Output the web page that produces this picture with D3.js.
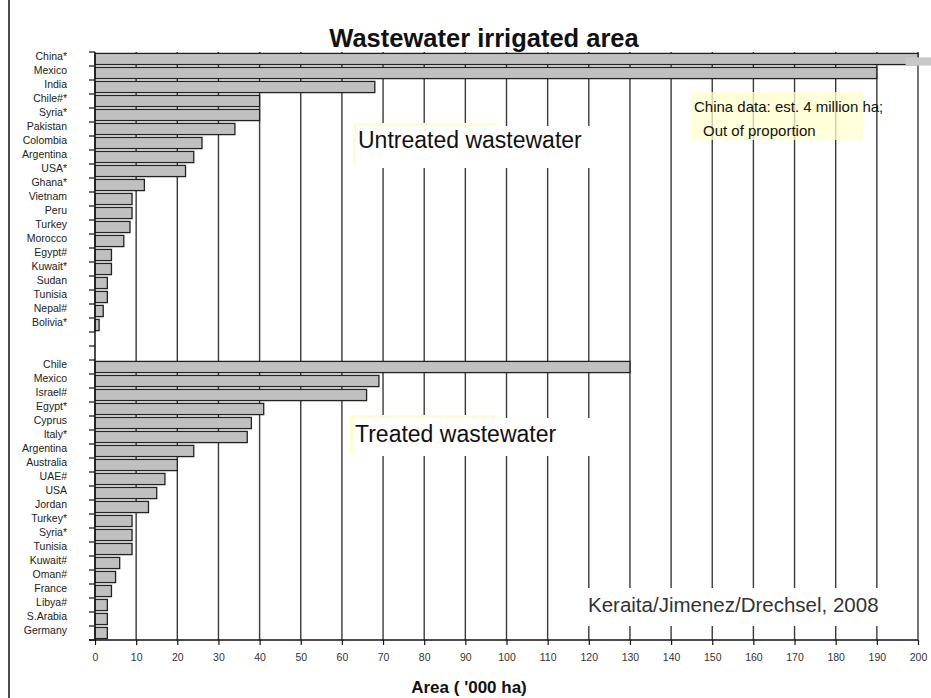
<!DOCTYPE html>
<html>
<head>
<meta charset="utf-8">
<script src="https://d3js.org/d3.v7.min.js"></script>
<style>
body { margin:0; background:#fff; }
text { font-family: "Liberation Sans", Arial, sans-serif; }
</style>
</head>
<body>
<script>
// untreated wastewater ('000 ha)
var untreatedNames = ["China*","Mexico","India","Chile#*","Syria*","Pakistan","Colombia","Argentina","USA*","Ghana*",
	"Vietnam","Peru","Turkey","Morocco","Egypt#","Kuwait*","Sudan","Tunisia","Nepal#","Bolivia*"];
var untreatedValues = [4000,190,68,40,40,34,26,24,22,12,9,9,8.5,7,4,4,3,3,2,1];

// treated wastewater ('000 ha)
var treatedNames = ["Chile","Mexico","Israel#","Egypt*","Cyprus","Italy*","Argentina","Australia","UAE#","USA",
	"Jordan","Turkey*","Syria*","Tunisia","Kuwait#","Oman#","France","Libya#","S.Arabia","Germany"];
var treatedValues = [130,69,66,41,38,37,24,20,17,15,13,9,9,9,6,5,4,3,3,3];

var xTicks = [0,10,20,30,40,50,60,70,80,90,100,110,120,130,140,150,160,170,180,190,200];

make_graph();

function make_graph(){
	var w = 931;
	var h = 698;
	var left = 95, right = 918, top = 52, bottom = 640;

	// one row per bar, two empty rows between the groups
	var rows = [];
	for(var i=0;i<untreatedNames.length;i++){
		rows.push({key:"u"+i, name:untreatedNames[i], value:untreatedValues[i]});
	}
	rows.push({key:"gap1", name:"", value:null});
	rows.push({key:"gap2", name:"", value:null});
	for(var i=0;i<treatedNames.length;i++){
		rows.push({key:"t"+i, name:treatedNames[i], value:treatedValues[i]});
	}

	var svg = d3.select("body")
			.append("svg")
			.attr("width",w)
			.attr("height",h);

	var x = d3.scaleLinear().domain([0,200]).range([left,right]);
	var y = d3.scaleBand()
		.domain(rows.map(function(d){ return d.key; }))
		.range([top,bottom])
		.paddingInner(0.2)
		.paddingOuter(0.1);

	// outer frame line on the left
	svg.append("line")
		.attr("x1",9).attr("x2",9).attr("y1",0).attr("y2",h)
		.attr("stroke","#111").attr("stroke-width",1.5);

	// vertical gridlines
	svg.selectAll("line.grid")
		.data(xTicks.slice(1))
		.enter()
		.append("line")
		.attr("class","grid")
		.attr("x1",function(d){ return x(d); })
		.attr("x2",function(d){ return x(d); })
		.attr("y1",top)
		.attr("y2",bottom)
		.attr("stroke","#3a3a3a")
		.attr("stroke-width",1.4);

	// china note (yellow box, gridlines show through)
	svg.append("rect")
		.attr("x",691).attr("y",92).attr("width",172).attr("height",48)
		.attr("fill","#ffffcc").attr("fill-opacity",0.75);

	// bars
	var bars = rows.filter(function(d){ return d.value != null; });
	svg.selectAll("rect.bar")
		.data(bars)
		.enter()
		.append("rect")
		.attr("class","bar")
		.attr("x",x(0))
		.attr("y",function(d){ return y(d.key); })
		.attr("width",function(d){ return x(Math.min(d.value,200)) - x(0); })
		.attr("height",y.bandwidth())
		.attr("fill","#c0c0c0")
		.attr("stroke","#222")
		.attr("stroke-width",1.3);

	// china bar runs off the chart
	var china = bars[0];
	svg.append("rect")
		.attr("x",x(197))
		.attr("y",y(china.key) + 4)
		.attr("width",w - x(197))
		.attr("height",y.bandwidth() - 3)
		.attr("fill","#c8c8c8");

	// y axis with ticks at row boundaries
	var bounds = rows.map(function(d){ return y(d.key) - y.step()*y.paddingInner()/2; });
	bounds.push(bottom);
	svg.append("line")
		.attr("x1",left).attr("x2",left).attr("y1",top).attr("y2",bottom)
		.attr("stroke","#111").attr("stroke-width",1.5);
	svg.selectAll("line.ytick")
		.data(bounds)
		.enter()
		.append("line")
		.attr("class","ytick")
		.attr("x1",left-6).attr("x2",left)
		.attr("y1",function(d){ return d; })
		.attr("y2",function(d){ return d; })
		.attr("stroke","#111").attr("stroke-width",1.2);

	svg.selectAll("text.ylab")
		.data(rows)
		.enter()
		.append("text")
		.attr("class","ylab")
		.attr("x",67)
		.attr("y",function(d){ return y(d.key) + y.bandwidth()/2 + 1; })
		.attr("text-anchor","end")
		.attr("font-size","10.5px")
		.attr("fill","#222")
		.text(function(d){ return d.name; });

	// x axis
	var xAxis = d3.axisBottom(x).tickValues(xTicks).tickSize(5).tickPadding(9);
	var gx = svg.append("g")
		.attr("transform","translate(0," + bottom + ")")
		.call(xAxis);
	gx.select(".domain").attr("stroke","#111").attr("stroke-width",1.6).attr("d","M" + (left-6) + ",0H" + right);
	gx.selectAll(".tick line").attr("stroke","#111").attr("stroke-width",1.2);
	gx.selectAll(".tick text")
		.attr("font-family","'Liberation Sans', Arial, sans-serif")
		.attr("font-size","10.5px")
		.attr("fill","#333");

	// title and axis title
	svg.append("text")
		.attr("x",484).attr("y",47)
		.attr("text-anchor","middle")
		.attr("font-size","25.5px").attr("font-weight","bold")
		.attr("fill","#111")
		.text("Wastewater irrigated area");
	svg.append("text")
		.attr("x",469).attr("y",693)
		.attr("text-anchor","middle")
		.attr("font-size","17px").attr("font-weight","bold")
		.attr("fill","#111")
		.text("Area ( '000 ha)");

	// group labels with boxes covering the gridlines
	label(svg, 353, 123, 144, "Untreated wastewater", 358, 148, 126, 42);
	label(svg, 350, 415, 147, "Treated wastewater", 355, 442, 418, 38);

	svg.append("rect")
		.attr("x",580).attr("y",588).attr("width",305).attr("height",38)
		.attr("fill","#fff");
	svg.append("text")
		.attr("x",588).attr("y",612)
		.attr("font-size","20.5px").attr("fill","#333")
		.text("Keraita/Jimenez/Drechsel, 2008");

	svg.append("text")
		.attr("x",694).attr("y",112)
		.attr("font-size","15px").attr("fill","#111")
		.text("China data: est. 4 million ha;");
	svg.append("text")
		.attr("x",703).attr("y",136)
		.attr("font-size","15px").attr("fill","#111")
		.text("Out of proportion");
}

function label(svg, bx, by, bw, txt, tx, ty, wy, wh){
	svg.append("rect")
		.attr("x",bx).attr("y",by).attr("width",bw).attr("height",wh)
		.attr("fill","#ffffcc");
	svg.append("rect")
		.attr("x",bx+3).attr("y",wy).attr("width",245).attr("height",wh)
		.attr("fill","#fff");
	svg.append("text")
		.attr("x",tx).attr("y",ty)
		.attr("font-size","23px").attr("fill","#111")
		.text(txt);
}
</script>
</body>
</html>
